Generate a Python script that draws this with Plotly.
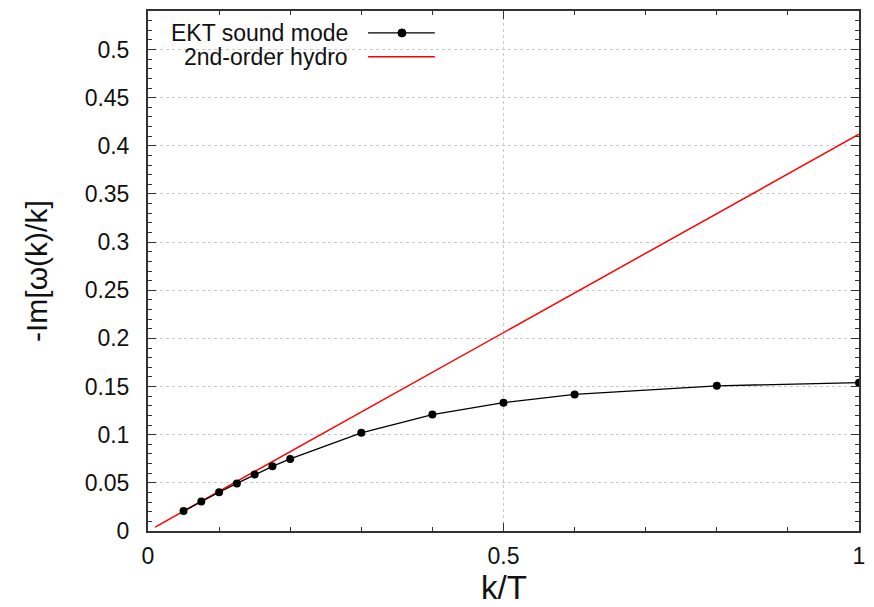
import plotly.graph_objects as go

# Data
k_ekt = [0.05, 0.075, 0.1, 0.125, 0.15, 0.175, 0.2, 0.3, 0.4, 0.5, 0.6, 0.8, 1.0]
im_ekt = [0.0207, 0.0307, 0.0402, 0.0494, 0.0587, 0.0672, 0.0748, 0.1020, 0.1209, 0.1333, 0.1418, 0.1508, 0.1540]
k_hydro = [0.01, 1.0]
im_hydro = [0.00412, 0.412]

y_tickvals = [0, 0.05, 0.1, 0.15, 0.2, 0.25, 0.3, 0.35, 0.4, 0.45, 0.5]
y_ticktext = ["0", "0.05", "0.1", "0.15", "0.2", "0.25", "0.3", "0.35", "0.4", "0.45", "0.5"]
x_tickvals = [0, 0.5, 1]
x_ticktext = ["0", "0.5", "1"]

W, H = 874, 607
L, R, T, B = 148, 12, 9, 76
PW, PH = W - L - R, H - T - B
FONT = "Liberation Sans, Arial, sans-serif"

def px(xp):
    return (xp - L) / PW

def py(yp):
    return (H - B - yp) / PH

fig = go.Figure()
fig.add_trace(go.Scatter(x=k_hydro, y=im_hydro, mode="lines",
                         line=dict(color="#ff0000", width=1.5), showlegend=False))
fig.add_trace(go.Scatter(x=k_ekt, y=im_ekt, mode="lines+markers",
                         line=dict(color="#000000", width=1.3),
                         marker=dict(color="#000000", size=8), showlegend=False))

axis_common = dict(showline=True, linecolor="#333333", linewidth=2, mirror="ticks",
                   ticks="inside", tickcolor="#333333", tickwidth=1, ticklen=8,
                   showgrid=True, gridcolor="#c8c8c8", gridwidth=1, griddash="dot",
                   zeroline=False, tickfont=dict(family=FONT, size=23, color="#111111"))

fig.update_xaxes(range=[0, 1], tickvals=x_tickvals, ticktext=x_ticktext,
                 minor=dict(dtick=0.1, tick0=0, ticks="inside", ticklen=4, tickcolor="#333333", showgrid=False),
                 ticklabelstandoff=3, **axis_common)
fig.update_yaxes(range=[0, 0.54], tickvals=y_tickvals, ticktext=y_ticktext,
                 minor=dict(dtick=0.01, tick0=0, ticks="inside", ticklen=4, tickcolor="#333333", showgrid=False),
                 ticklabelstandoff=12, **axis_common)

# Key box (opaque, covers grid) and samples
fig.add_shape(type="rect", xref="paper", yref="paper", x0=px(150), x1=px(445), y0=py(68), y1=py(11),
              fillcolor="white", line=dict(width=0), layer="between")
fig.add_shape(type="line", xref="paper", yref="paper", x0=px(369), x1=px(436), y0=py(31), y1=py(31),
              line=dict(color="#000000", width=1.3))
fig.add_shape(type="circle", xref="paper", yref="paper", xsizemode="pixel", ysizemode="pixel",
              xanchor=px(403), yanchor=py(31), x0=-4, x1=4, y0=-4, y1=4,
              fillcolor="#000000", line=dict(color="#000000", width=1))
fig.add_shape(type="line", xref="paper", yref="paper", x0=px(369), x1=px(436), y0=py(55), y1=py(55),
              line=dict(color="#ff0000", width=1.5))

fig.add_annotation(text="EKT sound mode", xref="paper", yref="paper", x=px(351), y=py(31),
                   xanchor="right", yanchor="middle", showarrow=False,
                   font=dict(family=FONT, size=23, color="#111111"))
fig.add_annotation(text="2nd-order hydro", xref="paper", yref="paper", x=px(351), y=py(55),
                   xanchor="right", yanchor="middle", showarrow=False,
                   font=dict(family=FONT, size=23, color="#111111"))

# Axis titles
fig.add_annotation(text="k/T", xref="paper", yref="paper", x=0.5, y=0, yshift=-(587 - (H - B)),
                   xanchor="center", yanchor="middle", showarrow=False,
                   font=dict(family=FONT, size=33, color="#111111"))
fig.add_annotation(text="-Im[ω(k)/k]", xref="paper", yref="paper", x=0, y=0.5, xshift=-(L - 36),
                   xanchor="center", yanchor="middle", textangle=-90, showarrow=False,
                   font=dict(family=FONT, size=30, color="#111111"))

fig.update_layout(width=W, height=H, margin=dict(l=L, r=R, t=T, b=B),
                  plot_bgcolor="white", paper_bgcolor="white", showlegend=False)

fig.write_html("out.html")
